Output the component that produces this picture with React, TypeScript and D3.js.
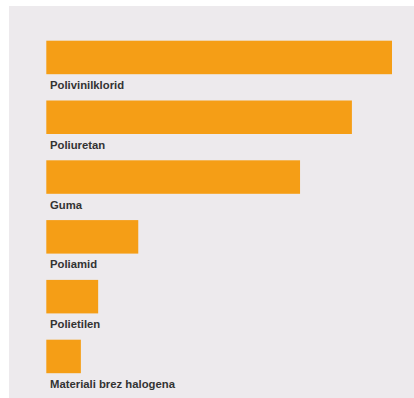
import React from "react";
import * as d3 from "d3";

const categories = [
  "Polivinilklorid",
  "Poliuretan",
  "Guma",
  "Poliamid",
  "Polietilen",
  "Materiali brez halogena",
];
const values = [100, 88.4, 73.4, 26.6, 15, 10];

const W = 414;
const H = 398;

export default function App() {
  const x = d3.scaleLinear().domain([0, 100]).range([46.3, 392]);
  const y = d3
    .scaleBand<string>()
    .domain(categories)
    .range([40.7, 40.7 + 5 * 59.8 + 33.5])
    .paddingInner((59.8 - 33.5) / 59.8)
    .paddingOuter(0);
  const bw = y.bandwidth();
  return (
    <svg
      width={W}
      height={H}
      style={{ position: "absolute", left: 0, top: 0 }}
    >
      <rect x={0} y={0} width={W} height={H} fill="#ffffff" />
      <rect x={9} y={6} width={W - 9} height={H - 6} fill="#edeaed" />
      {categories.map((c, i) => {
        const y0 = y(c) as number;
        return (
          <g key={c}>
            <rect
              x={x(0)}
              y={y0}
              width={x(values[i]) - x(0)}
              height={bw}
              fill="#f59e16"
            />
            <text
              x={50}
              y={y0 + bw + 14.8}
              fontFamily="Liberation Sans, Arial, sans-serif"
              fontWeight="bold"
              fontSize={11.3}
              fill="#333333"
            >
              {c}
            </text>
          </g>
        );
      })}
    </svg>
  );
}
